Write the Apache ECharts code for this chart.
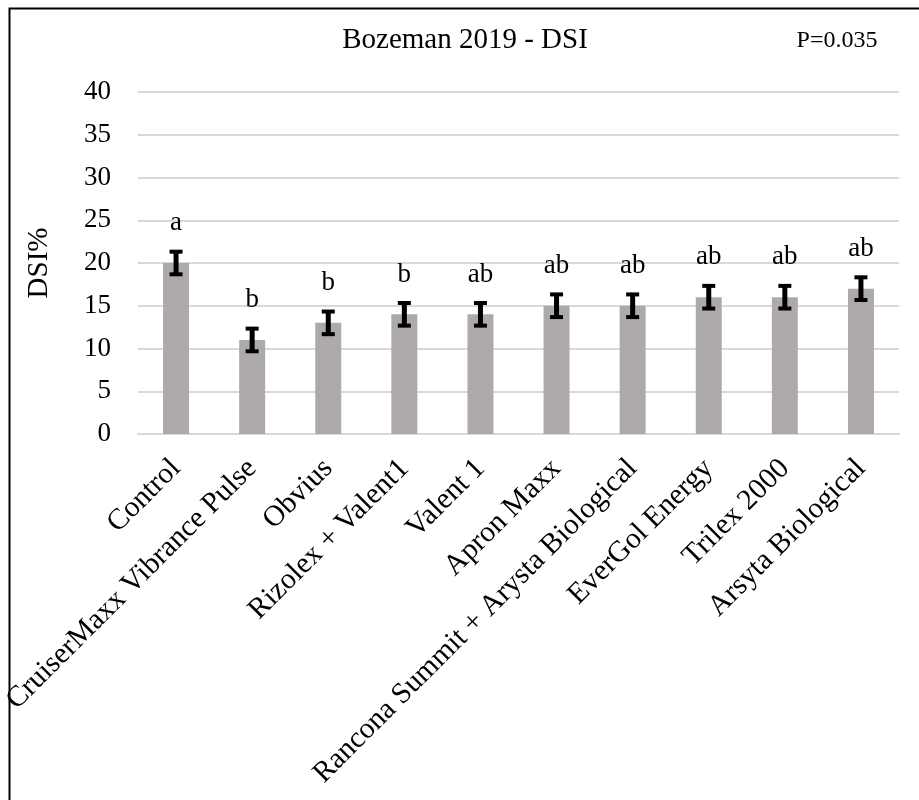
<!DOCTYPE html>
<html>
<head>
<meta charset="utf-8">
<style>
  html, body { margin: 0; padding: 0; background: #fff; }
  #chart { width: 919px; height: 800px; }
</style>
<script src="https://cdn.jsdelivr.net/npm/echarts@6/dist/echarts.min.js"></script>
</head>
<body>
<div id="chart"></div>
<script>
// Treatments and disease severity index (DSI, %) with standard error and group letters
const categories = [
  'Control',
  'CruiserMaxx Vibrance Pulse',
  'Obvius',
  'Rizolex + Valent1',
  'Valent 1',
  'Apron Maxx',
  'Rancona Summit + Arysta Biological',
  'EverGol Energy',
  'Trilex 2000',
  'Arsyta Biological'
];
const dsi = [20, 11, 13, 14, 14, 15, 15, 16, 16, 17];
const stdErr = [1.5, 1.5, 1.5, 1.5, 1.5, 1.5, 1.5, 1.5, 1.5, 1.5];
const letters = ['a', 'b', 'b', 'b', 'ab', 'ab', 'ab', 'ab', 'ab', 'ab'];
const yTicks = { min: 0, max: 40, interval: 5 };

const FONT = '"Liberation Serif", "Times New Roman", serif';

const chart = echarts.init(document.getElementById('chart'), null, { renderer: 'canvas' });

const errData = dsi.map((v, i) => [i, v, stdErr[i]]);

chart.setOption({
  backgroundColor: '#ffffff',
  animation: false,
  textStyle: { fontFamily: FONT },
  graphic: [
    {
      // chart frame (runs off the right and bottom edges)
      type: 'rect',
      shape: { x: 9.5, y: 8.5, width: 960, height: 840 },
      style: { fill: 'none', stroke: '#000', lineWidth: 2 },
      z: 100
    },
    {
      type: 'text',
      x: 465,
      y: 40,
      style: { text: 'Bozeman 2019 - DSI', font: '29px ' + FONT, fill: '#000', align: 'center', verticalAlign: 'middle' }
    },
    {
      type: 'text',
      x: 837,
      y: 41,
      style: { text: 'P=0.035', font: '24px ' + FONT, fill: '#000', align: 'center', verticalAlign: 'middle' }
    }
  ],
  grid: { left: 138, right: 20, top: 92, bottom: 366, containLabel: false, outerBoundsMode: 'none' },
  xAxis: {
    type: 'category',
    data: categories,
    axisTick: { show: false },
    axisLine: { lineStyle: { color: '#d9d9d9', width: 2 } },
    axisLabel: {
      interval: 0,
      rotate: 45,
      margin: 30,
      color: '#000',
      fontSize: 29.5,
      fontFamily: FONT
    }
  },
  yAxis: {
    type: 'value',
    min: yTicks.min,
    max: yTicks.max,
    interval: yTicks.interval,
    name: 'DSI%',
    nameLocation: 'middle',
    nameGap: 84,
    nameRotate: 90,
    nameTextStyle: { color: '#000', fontSize: 29, fontFamily: FONT },
    axisLine: { show: false },
    axisTick: { show: false },
    axisLabel: { color: '#000', fontSize: 27, fontFamily: FONT, margin: 27 },
    splitLine: { lineStyle: { color: '#d9d9d9', width: 2 } }
  },
  series: [
    {
      type: 'bar',
      data: dsi,
      barWidth: 26,
      itemStyle: { color: '#aeaaaa' },
      z: 2
    },
    {
      type: 'custom',
      data: errData,
      z: 5,
      renderItem: function (params, api) {
        const i = api.value(0);
        const v = api.value(1);
        const e = api.value(2);
        const top = api.coord([i, v + e]);
        const bot = api.coord([i, v - e]);
        const x = top[0];
        const cap = 6.5;
        return {
          type: 'group',
          children: [
            { type: 'line', shape: { x1: x, y1: top[1], x2: x, y2: bot[1] }, style: { stroke: '#000', lineWidth: 5 } },
            { type: 'line', shape: { x1: x - cap, y1: top[1] + 1.5, x2: x + cap, y2: top[1] + 1.5 }, style: { stroke: '#000', lineWidth: 4 } },
            { type: 'line', shape: { x1: x - cap, y1: bot[1] - 1.5, x2: x + cap, y2: bot[1] - 1.5 }, style: { stroke: '#000', lineWidth: 4 } },
            {
              type: 'text',
              x: x,
              y: top[1] - 27,
              style: {
                text: letters[params.dataIndex],
                font: '27px ' + FONT,
                fill: '#000',
                align: 'center',
                verticalAlign: 'middle'
              }
            }
          ]
        };
      }
    }
  ]
});
</script>
</body>
</html>
